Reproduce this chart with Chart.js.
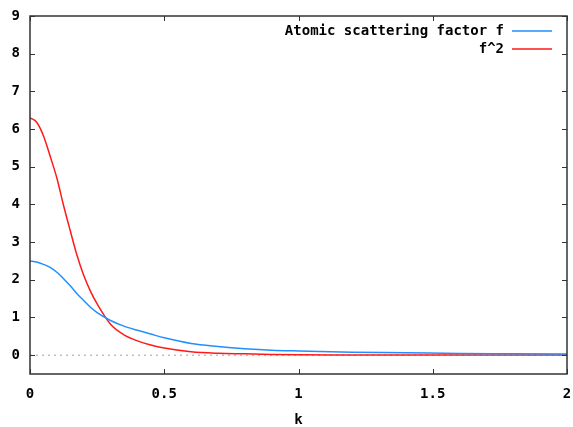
<!DOCTYPE html>
<html>
<head>
<meta charset="utf-8">
<script src="https://cdn.jsdelivr.net/npm/chart.js@4/dist/chart.umd.min.js"></script>
<style>
  html, body { margin: 0; padding: 0; background: #fff; }
  canvas { display: block; }
</style>
</head>
<body>
<canvas id="plot" width="573" height="427"></canvas>
<script>
// values
const kValues = [0, 0.025, 0.05, 0.075, 0.1, 0.125, 0.15, 0.175, 0.2, 0.225, 0.25, 0.3, 0.35, 0.4, 0.45, 0.5, 0.6, 0.7, 0.8, 0.9, 1.0, 1.2, 1.4, 1.6, 1.8, 2.0];
const fValues = [2.50, 2.47, 2.41, 2.33, 2.20, 2.03, 1.84, 1.63, 1.45, 1.27, 1.13, 0.92, 0.77, 0.66, 0.56, 0.46, 0.31, 0.23, 0.17, 0.13, 0.11, 0.08, 0.065, 0.045, 0.038, 0.03];
const f2Values = [6.30, 6.18, 5.82, 5.28, 4.70, 3.97, 3.30, 2.65, 2.12, 1.70, 1.36, 0.82, 0.54, 0.38, 0.27, 0.19, 0.09, 0.05, 0.035, 0.02, 0.01, 0.006, 0.004, 0.003, 0.002, 0.001];
const zeroK = [0, 2];
const zeroY = [0, 0];

const seriesLabels = ['Atomic scattering factor f', 'f^2'];
const xTicks = [0, 0.5, 1, 1.5, 2];
const yTicks = [0, 1, 2, 3, 4, 5, 6, 7, 8, 9];

const tickFont = {family: '"DejaVu Sans Mono", monospace', size: 14, weight: 'bold'};

function toPoints(xs, ys) {
    return xs.map((x, i) => ({x: x, y: ys[i]}));
}

// gnuplot style frame with inward ticks on all four sides
const framePlugin = {
    id: 'frame',
    afterDatasetsDraw(chart) {
        const ctx = chart.ctx;
        const a = chart.chartArea;
        const xs = chart.scales.x;
        const ys = chart.scales.y;
        ctx.save();
        ctx.strokeStyle = '#333';
        ctx.lineWidth = 1;
        xTicks.forEach(v => {
            const px = Math.round(xs.getPixelForValue(v)) + 0.5;
            ctx.beginPath();
            ctx.moveTo(px, a.bottom); ctx.lineTo(px, a.bottom - 5);
            ctx.moveTo(px, a.top); ctx.lineTo(px, a.top + 5);
            ctx.stroke();
        });
        yTicks.forEach(v => {
            const py = Math.round(ys.getPixelForValue(v)) + 0.5;
            ctx.beginPath();
            ctx.moveTo(a.left, py); ctx.lineTo(a.left + 5, py);
            ctx.moveTo(a.right, py); ctx.lineTo(a.right - 5, py);
            ctx.stroke();
        });
        ctx.lineWidth = 1.5;
        ctx.strokeRect(a.left, a.top, a.right - a.left, a.bottom - a.top);
        ctx.restore();
    }
};

// key in the top right corner: text right aligned, line sample after it
const keyPlugin = {
    id: 'key',
    afterDraw(chart) {
        const ctx = chart.ctx;
        const a = chart.chartArea;
        ctx.save();
        ctx.font = 'bold 14px "DejaVu Sans Mono", monospace';
        ctx.textAlign = 'right';
        ctx.textBaseline = 'middle';
        let row = 0;
        chart.data.datasets.forEach(ds => {
            if (!ds.label) return;
            const y = a.top + 15 + row * 18;
            ctx.fillStyle = '#000';
            ctx.fillText(ds.label, a.right - 63, y);
            ctx.strokeStyle = ds.borderColor;
            ctx.lineWidth = ds.borderWidth;
            ctx.beginPath();
            ctx.moveTo(a.right - 55, y);
            ctx.lineTo(a.right - 15, y);
            ctx.stroke();
            row++;
        });
        ctx.restore();
    }
};

new Chart(document.getElementById('plot'), {
    type: 'line',
    data: {
        datasets: [
            {
                data: toPoints(zeroK, zeroY),
                borderColor: '#a0a0a0',
                borderWidth: 1,
                borderDash: [2, 4],
                pointRadius: 0,
                order: 3
            },
            {
                label: seriesLabels[0],
                data: toPoints(kValues, fValues),
                borderColor: '#2090ff',
                borderWidth: 1.5,
                pointRadius: 0,
                cubicInterpolationMode: 'monotone',
                order: 1
            },
            {
                label: seriesLabels[1],
                data: toPoints(kValues, f2Values),
                borderColor: '#ff1a1a',
                borderWidth: 1.5,
                pointRadius: 0,
                cubicInterpolationMode: 'monotone',
                order: 2
            }
        ]
    },
    options: {
        responsive: false,
        devicePixelRatio: 1,
        animation: false,
        layout: {padding: {top: 16, right: 6, left: 0, bottom: 0}},
        plugins: {
            legend: {display: false},
            tooltip: {enabled: false}
        },
        scales: {
            x: {
                type: 'linear',
                min: 0,
                max: 2,
                grid: {display: false, drawTicks: false},
                border: {display: false},
                ticks: {
                    color: '#000',
                    font: tickFont,
                    padding: 12,
                    maxRotation: 0,
                    callback: v => String(v)
                },
                title: {
                    display: true,
                    text: 'k',
                    color: '#000',
                    font: {family: '"DejaVu Sans Mono", monospace', size: 14, weight: 'bold', lineHeight: 1},
                    padding: {top: 4, bottom: 0}
                },
                afterBuildTicks(scale) {
                    scale.ticks = xTicks.map(v => ({value: v}));
                },
                afterFit(scale) {
                    scale.height = 53;
                    scale.paddingLeft = 0;
                    scale.paddingRight = 0;
                }
            },
            y: {
                type: 'linear',
                min: -0.5,
                max: 9,
                grid: {display: false, drawTicks: false},
                border: {display: false},
                ticks: {color: '#000', font: tickFont, padding: 10},
                afterBuildTicks(scale) {
                    scale.ticks = yTicks.map(v => ({value: v}));
                },
                afterFit(scale) {
                    scale.width = 30;
                    scale.paddingTop = 0;
                    scale.paddingBottom = 0;
                }
            }
        }
    },
    plugins: [framePlugin, keyPlugin]
});
</script>
</body>
</html>
